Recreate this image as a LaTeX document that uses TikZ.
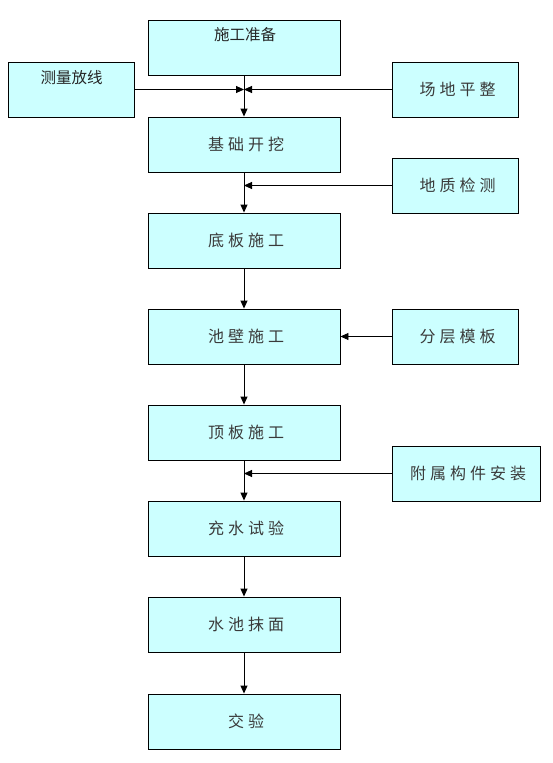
\documentclass[tikz,border=0pt]{standalone}
\usepackage{fontspec}
\setmainfont{Noto Sans CJK SC}
\newfontfamily\cjksp[LetterSpace=25]{Noto Sans CJK SC}
\newfontfamily\cjkt{Noto Sans CJK SC}
\usetikzlibrary{arrows.meta}
\definecolor{boxfill}{HTML}{CCFFFF}
\definecolor{txtgray}{HTML}{3A3A3A}
\tikzset{
  box/.style={draw=black, line width=0.9pt, fill=boxfill, rectangle, inner sep=0pt},
  mainbox/.style={box, minimum width=192pt, minimum height=55pt},
  sidebox/.style={box, minimum width=126pt, minimum height=55pt},
  sptxt/.style={font=\fontsize{16pt}{16pt}\cjksp, text=txtgray},
  toptxt/.style={font=\fontsize{15.5pt}{15.5pt}\cjkt, text=black!85, inner sep=0pt},
  arr/.style={draw=black, line width=0.9pt, -{Triangle[length=8pt,width=7pt]}},
  ln/.style={draw=black, line width=0.9pt}
}
\newcommand{\spc}[1]{#1\kern-4pt}
\begin{document}
\begin{tikzpicture}[x=1pt,y=-1pt]
\useasboundingbox (0,0) rectangle (552,763);
% main column
\node[mainbox] (b1) at (244,48) {};
\node[toptxt] (t1) at (245,35) {施工准备};
\node[mainbox, sptxt] (b2) at (244,144.5) {\spc{基础开挖}};
\node[mainbox, sptxt] (b3) at (244,240.5) {\spc{底板施工}};
\node[mainbox, sptxt] (b4) at (244,336.5) {\spc{池壁施工}};
\node[mainbox, sptxt] (b5) at (244,432.5) {\spc{顶板施工}};
\node[mainbox, sptxt] (b6) at (244,528.5) {\spc{充水试验}};
\node[mainbox, sptxt] (b7) at (244,624.5) {\spc{水池抹面}};
\node[mainbox, sptxt] (b8) at (244,721.5) {\spc{交验}};
% side boxes
\node[sidebox] (l1) at (71.5,89.5) {};
\node[toptxt] (tl1) at (71.5,78) {测量放线};
\node[sidebox, sptxt] (r1) at (455.5,89.5) {\spc{场地平整}};
\node[sidebox, sptxt] (r2) at (455.5,185.5) {\spc{地质检测}};
\node[sidebox, sptxt] (r3) at (455.5,336.5) {\spc{分层模板}};
\node[box, minimum width=148pt, minimum height=55pt, sptxt] (r4) at (466,473.5) {\spc{附属构件安装}};
% junction coordinates
\coordinate (j1) at (244,89.5);
\coordinate (j2) at (244,185.5);
\coordinate (j4) at (244,473.5);
% connectors
\draw[arr] (b1.south) -- (b2.north);
\draw[arr] (l1.east) -- (j1);
\draw[arr] (r1.west) -- (j1);
\draw[arr] (b2.south) -- (b3.north);
\draw[arr] (r2.west) -- (j2);
\draw[arr] (b3.south) -- (b4.north);
\draw[arr] (r3.west) -- (b4.east);
\draw[arr] (b4.south) -- (b5.north);
\draw[arr] (b5.south) -- (b6.north);
\draw[arr] (r4.west) -- (j4);
\draw[arr] (b6.south) -- (b7.north);
\draw[arr] (b7.south) -- (b8.north);
\end{tikzpicture}
\end{document}
